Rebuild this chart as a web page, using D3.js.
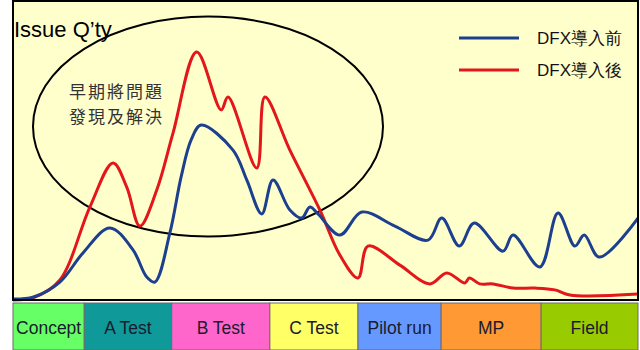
<!DOCTYPE html>
<html>
<head>
<meta charset="utf-8">
<script src="https://cdn.jsdelivr.net/npm/d3@7"></script>
<style>
  body { margin: 0; background: #fff; }
  svg { display: block; }
  .lbl { font-family: Arial, "Liberation Sans", sans-serif; }
  .cjk { font-family: "Noto Sans CJK TC", "Noto Sans CJK SC", sans-serif; }
</style>
</head>
<body>
<svg id="chart" width="640" height="350"></svg>
<script>
// timeline 0..100, issue quantity 0..100
const tBefore   = [0, 3.3, 7.5, 11.2, 15.5, 19.2, 21.4, 22.7, 25.1, 26.9, 28.5, 30.1, 35.2, 37.4, 39.8, 41.6, 44.3, 46.2, 47.5, 48.8, 52.3, 55.8, 61.1, 66.4, 68.6, 71.4, 73.8, 78.4, 80, 84.3, 87.2, 89.9, 91.4, 93.8, 100];
const qtyBefore = [0.3, 1, 6, 15.8, 24.2, 16.8, 7.7, 6, 22.5, 41.3, 53.7, 58.7, 50.3, 40.3, 28.9, 40.3, 30.2, 27.5, 31.2, 28.9, 21.8, 29.5, 24.8, 20.1, 27.5, 18.1, 25.8, 16.4, 21.8, 11.1, 29.2, 18.1, 21.8, 14.4, 27.5];

const tAfter   = [0, 3.5, 7.5, 12.3, 16, 18.2, 20.3, 23, 25.6, 29.4, 33.3, 34.4, 39, 40.3, 44.3, 49.1, 52.3, 55.2, 56.8, 61.9, 66.7, 69.4, 72.3, 73, 74.7, 76.8, 80, 83.5, 86.7, 89.1, 100];
const qtyAfter = [0, 1, 6.7, 31.2, 46, 37.9, 24.8, 36.9, 56, 83.2, 63.8, 68.1, 44.3, 68.1, 50.3, 30.2, 15.1, 7.4, 18.1, 11.7, 5.4, 9.1, 5.7, 7.4, 5.4, 5.4, 4, 4, 3.4, 1.7, 2];

const phases    = ["Concept", "A Test", "B Test", "C Test", "Pilot run", "MP", "Field"];
const phaseEnds = [11.4, 25.4, 41.1, 55.2, 68.5, 84.5, 100];
const phaseColors = ["#66ff66", "#0f9999", "#ff66cc", "#ffff66", "#6699ff", "#ff9933", "#99cc00"];

const seriesNames = ["DFX導入前", "DFX導入後"];
const seriesColors = ["#1d3f8f", "#e3161c"];
const noteLines = ["早期將問題", "發現及解決"];

const svg = d3.select("#chart");

const x = d3.scaleLinear().domain([0, 100]).range([13, 638]);
const y = d3.scaleLinear().domain([0, 100]).range([300, 2]);

// plot background
svg.append("rect")
  .attr("x", x(0)).attr("y", 1)
  .attr("width", x(100) - x(0)).attr("height", 299)
  .attr("fill", "#ffffcc");

// highlight ellipse (early problem discovery)
svg.append("ellipse")
  .attr("cx", x(31.2)).attr("cy", y(58.2))
  .attr("rx", x(28) - x(0)).attr("ry", y(0) - y(36.9))
  .attr("fill", "none")
  .attr("stroke", "#000")
  .attr("stroke-width", 2);

const line = d3.line()
  .x(d => x(d[0]))
  .y(d => y(d[1]))
  .curve(d3.curveCatmullRom.alpha(0.5));

const before = tBefore.map((t, i) => [t, qtyBefore[i]]);
const after = tAfter.map((t, i) => [t, qtyAfter[i]]);

svg.append("path")
  .datum(after)
  .attr("d", line)
  .attr("fill", "none")
  .attr("stroke", seriesColors[1])
  .attr("stroke-width", 3);

svg.append("path")
  .datum(before)
  .attr("d", line)
  .attr("fill", "none")
  .attr("stroke", seriesColors[0])
  .attr("stroke-width", 3);

// frame
svg.append("rect")
  .attr("x", x(0)).attr("y", 1)
  .attr("width", x(100) - x(0)).attr("height", 299)
  .attr("fill", "none")
  .attr("stroke", "#000")
  .attr("stroke-width", 2);

// axis title
svg.append("text")
  .attr("class", "lbl")
  .attr("x", 14).attr("y", 37)
  .attr("font-size", 22)
  .attr("fill", "#000")
  .text("Issue Q’ty");

// note inside ellipse (one text, two lines)
svg.append("text")
  .attr("class", "cjk")
  .attr("font-size", 17)
  .attr("letter-spacing", 2)
  .attr("fill", "#333")
  .selectAll("tspan")
  .data(noteLines)
  .join("tspan")
    .attr("x", 69)
    .attr("y", (d, i) => 98 + i * 25)
    .text(d => d);

// legend
const legend = svg.append("g").attr("transform", "translate(459,38)");
legend.selectAll("line")
  .data(seriesNames)
  .join("line")
    .attr("x1", 0).attr("x2", 60)
    .attr("y1", (d, i) => i * 32).attr("y2", (d, i) => i * 32)
    .attr("stroke", (d, i) => seriesColors[i])
    .attr("stroke-width", 3);
legend.selectAll("text")
  .data(seriesNames)
  .join("text")
    .attr("class", "lbl")
    .attr("x", 78)
    .attr("y", (d, i) => i * 32 + 6)
    .attr("font-size", 17)
    .attr("fill", "#111")
    .text(d => d);

// phase bar
const phaseStarts = [0].concat(phaseEnds.slice(0, -1));
const cells = svg.append("g").selectAll("g")
  .data(phases)
  .join("g");

cells.append("rect")
  .attr("x", (d, i) => x(phaseStarts[i]))
  .attr("y", 303)
  .attr("width", (d, i) => x(phaseEnds[i]) - x(phaseStarts[i]))
  .attr("height", 47)
  .attr("fill", (d, i) => phaseColors[i])
  .attr("stroke", "#6b6b6b")
  .attr("stroke-width", 1);

cells.append("text")
  .attr("class", "lbl")
  .attr("x", (d, i) => (x(phaseStarts[i]) + x(phaseEnds[i])) / 2)
  .attr("y", 334)
  .attr("text-anchor", "middle")
  .attr("font-size", 17.5)
  .attr("fill", "#1a1a2e")
  .text(d => d);
</script>
</body>
</html>
